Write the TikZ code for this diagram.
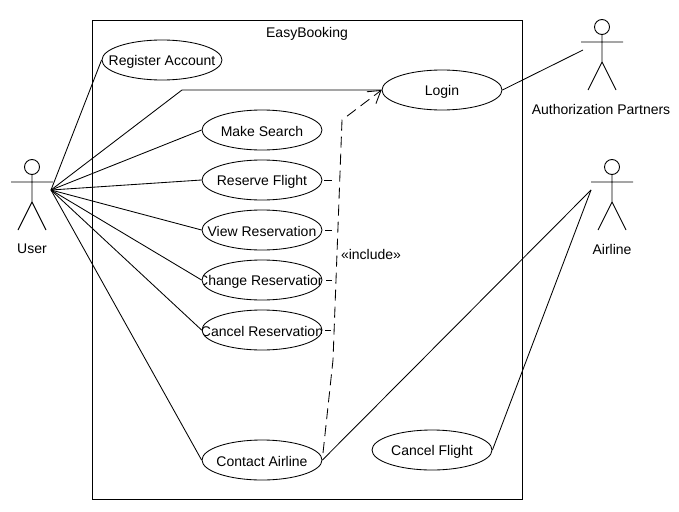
\documentclass[tikz,border=0pt]{standalone}
\usepackage{fontspec}
\setmainfont{Liberation Sans}
\usetikzlibrary{arrows.meta,shapes.geometric}
\tikzset{
  usecase/.style={ellipse,draw,line width=0.85pt,minimum width=120pt,minimum height=40pt,inner sep=0pt,
    path picture={\node[shape=rectangle,draw=none,minimum size=0pt,inner sep=0pt,yshift=-1.5pt] at (path picture bounding box.center) {#1};}},
  link/.style={line width=0.85pt},
  dep/.style={line width=0.85pt,dash pattern=on 11pt off 6pt},
  limb/.style={line width=0.9pt},
}
% stick figure: head on top, #1 is the name, #2 the head centre
\newcommand{\actorfig}[2]{
\draw[limb,shift={#2}] (0,0) circle (7.5pt);
\draw[limb,shift={#2}] (0,7.5) -- (0,35) (-21,15) -- (21,15) (-14,63) -- (0,35) -- (14,63);
}
\begin{document}
\begin{tikzpicture}[x=1pt,y=-1pt,font=\fontsize{14pt}{16pt}\selectfont]
\useasboundingbox (0,0) rectangle (679,511);
\fill[white] (0,0) rectangle (679,511);
\draw[line width=0.9pt] (92,20) rectangle (522,499);
\node (system) at (307,34) {EasyBooking};
% use cases
\node[usecase={Register Account}] (register) at (162,60) {};
\node[usecase={Login}] (login) at (442,90) {};
\node[usecase={Make Search}] (search) at (262,130) {};
\node[usecase={Reserve Flight}] (reserve) at (262,180) {};
\node[usecase={View Reservation}] (view) at (262,230) {};
\node[usecase={Change Reservation}] (change) at (262,280) {};
\node[usecase={Cancel Reservation}] (cancel) at (262,330) {};
\node[usecase={Contact Airline}] (contact) at (262,460) {};
\node[usecase={Cancel Flight}] (cancelflight) at (432,450) {};
% actors
\actorfig{user}{(32,167)}
\actorfig{partners}{(602,27)}
\actorfig{airline}{(612,167)}
\node (userlabel) at (32,249) {User};
\node (partnerslabel) at (601,109) {Authorization Partners};
\node (airlinelabel) at (612,249) {Airline};
\coordinate (userhub) at (51,190);
\coordinate (partnershub) at (583,50);
\coordinate (airlinehub) at (591,190);
% associations
\foreach \uc in {register,search,reserve,view,change,cancel,contact}
\draw[link] (userhub) -- (\uc.west);
\draw[link] (userhub) -- (182,90) -- (login.west);
\draw[link] (login.east) -- (partnershub);
\draw[link] (airlinehub) -- (contact.east);
\draw[link] (airlinehub) -- (cancelflight.east);
% include
\coordinate (bendlow) at (333,360);
\coordinate (bendhigh) at (342,120);
\draw[dep,-{Straight Barb[length=12pt,width=15pt]}] (323,453) -- (bendlow) -- (bendhigh) -- (login.west);
\foreach \uc/\sx/\ex in {reserve/324/332,view/325/332,change/326/332,cancel/325/331}
\draw[link] (\sx,0 |- \uc.east) -- (\ex,0 |- \uc.east);
\node (includelabel) at (371,254) {«include»};
\end{tikzpicture}
\end{document}
